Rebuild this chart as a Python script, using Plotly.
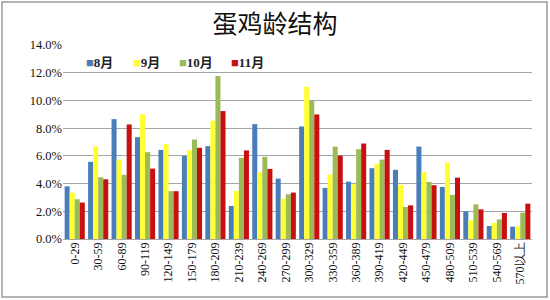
import plotly.graph_objects as go

categories = ["0-29", "30-59", "60-89", "90-119", "120-149", "150-179", "180-209",
              "210-239", "240-269", "270-299", "300-329", "330-359", "360-389",
              "390-419", "420-449", "450-479", "480-509", "510-539", "540-569", "570以上"]
aug = [3.8, 5.57, 8.65, 7.35, 6.43, 6.0, 6.7, 2.39, 8.29, 4.36, 8.12, 3.69, 4.14, 5.11, 4.99, 6.67, 3.76, 2.0, 0.94, 0.89]
sep = [3.35, 6.7, 5.73, 9.01, 6.87, 6.41, 8.53, 3.47, 4.82, 2.92, 10.99, 4.65, 3.95, 5.45, 3.9, 4.82, 5.52, 1.35, 1.16, 0.92]
octo = [2.87, 4.46, 4.63, 6.27, 3.45, 7.18, 11.76, 5.86, 5.93, 3.23, 9.95, 6.67, 6.48, 5.73, 2.31, 4.12, 3.18, 2.5, 1.42, 1.9]
nov = [2.63, 4.31, 8.27, 5.08, 3.45, 6.58, 9.23, 6.39, 5.06, 3.35, 8.99, 6.02, 6.89, 6.43, 2.43, 3.88, 4.43, 2.14, 1.88, 2.55]
series_names = ["8月", "9月", "10月", "11月"]
colors = ["#4A7EBB", "#FFFF33", "#9BBB59", "#C81010"]

fig = go.Figure()
for name, vals, c in zip(series_names, [aug, sep, octo, nov], colors):
    fig.add_trace(go.Bar(x=categories, y=[v / 100 for v in vals], name=name,
                         marker=dict(color=c, line=dict(width=0)), showlegend=False))

L, R, T, B = 63, 18, 45, 61
W, H = 550, 300
pw, ph = W - L - R, H - T - B

# legend drawn as text entries (square glyph + label)
legend_x_px = [84, 131, 177, 229]
annotations = []
for name, c, lx in zip(series_names, colors, legend_x_px):
    annotations.append(dict(
        xref="paper", yref="paper", x=(lx - L) / pw, y=(239 - 62) / ph,
        xanchor="left", yanchor="middle", showarrow=False,
        text=f'<span style="color:{c}">■</span><b>{name}</b>',
        font=dict(family="Liberation Serif, Noto Sans CJK SC", size=13, color="#222")))

fig.update_layout(
    width=W, height=H,
    margin=dict(l=L, r=R, t=T, b=B),
    paper_bgcolor="white", plot_bgcolor="white",
    barmode="group", bargap=0.14, bargroupgap=0.0,
    title=dict(text="蛋鸡龄结构", x=0.5, xanchor="center", y=1 - 24 / H, yanchor="middle",
               font=dict(family="Noto Sans CJK SC", size=25, color="#111")),
    showlegend=False,
    annotations=annotations,
    xaxis=dict(tickangle=-90, tickfont=dict(family="Liberation Serif", size=12, color="#111"),
               showgrid=False, showline=False, ticks="", type="category"),
    yaxis=dict(range=[0, 0.14], dtick=0.02, tickformat=".1%",
               tickfont=dict(family="Liberation Serif", size=12.5, color="#111"),
               showgrid=True, gridcolor="#A6A6A6", gridwidth=1, zeroline=True,
               zerolinecolor="#A6A6A6", zerolinewidth=1, ticks="", ticklen=0),
    shapes=[dict(type="rect", xref="paper", yref="paper",
                 x0=(2 - L) / pw, x1=(W - 3 - L) / pw, y0=(B - 3) / -ph, y1=1 + (T - 2) / ph,
                 line=dict(color="#9A9A9A", width=1.5), fillcolor="rgba(0,0,0,0)", layer="below")],
)
fig.write_html("out.html")
